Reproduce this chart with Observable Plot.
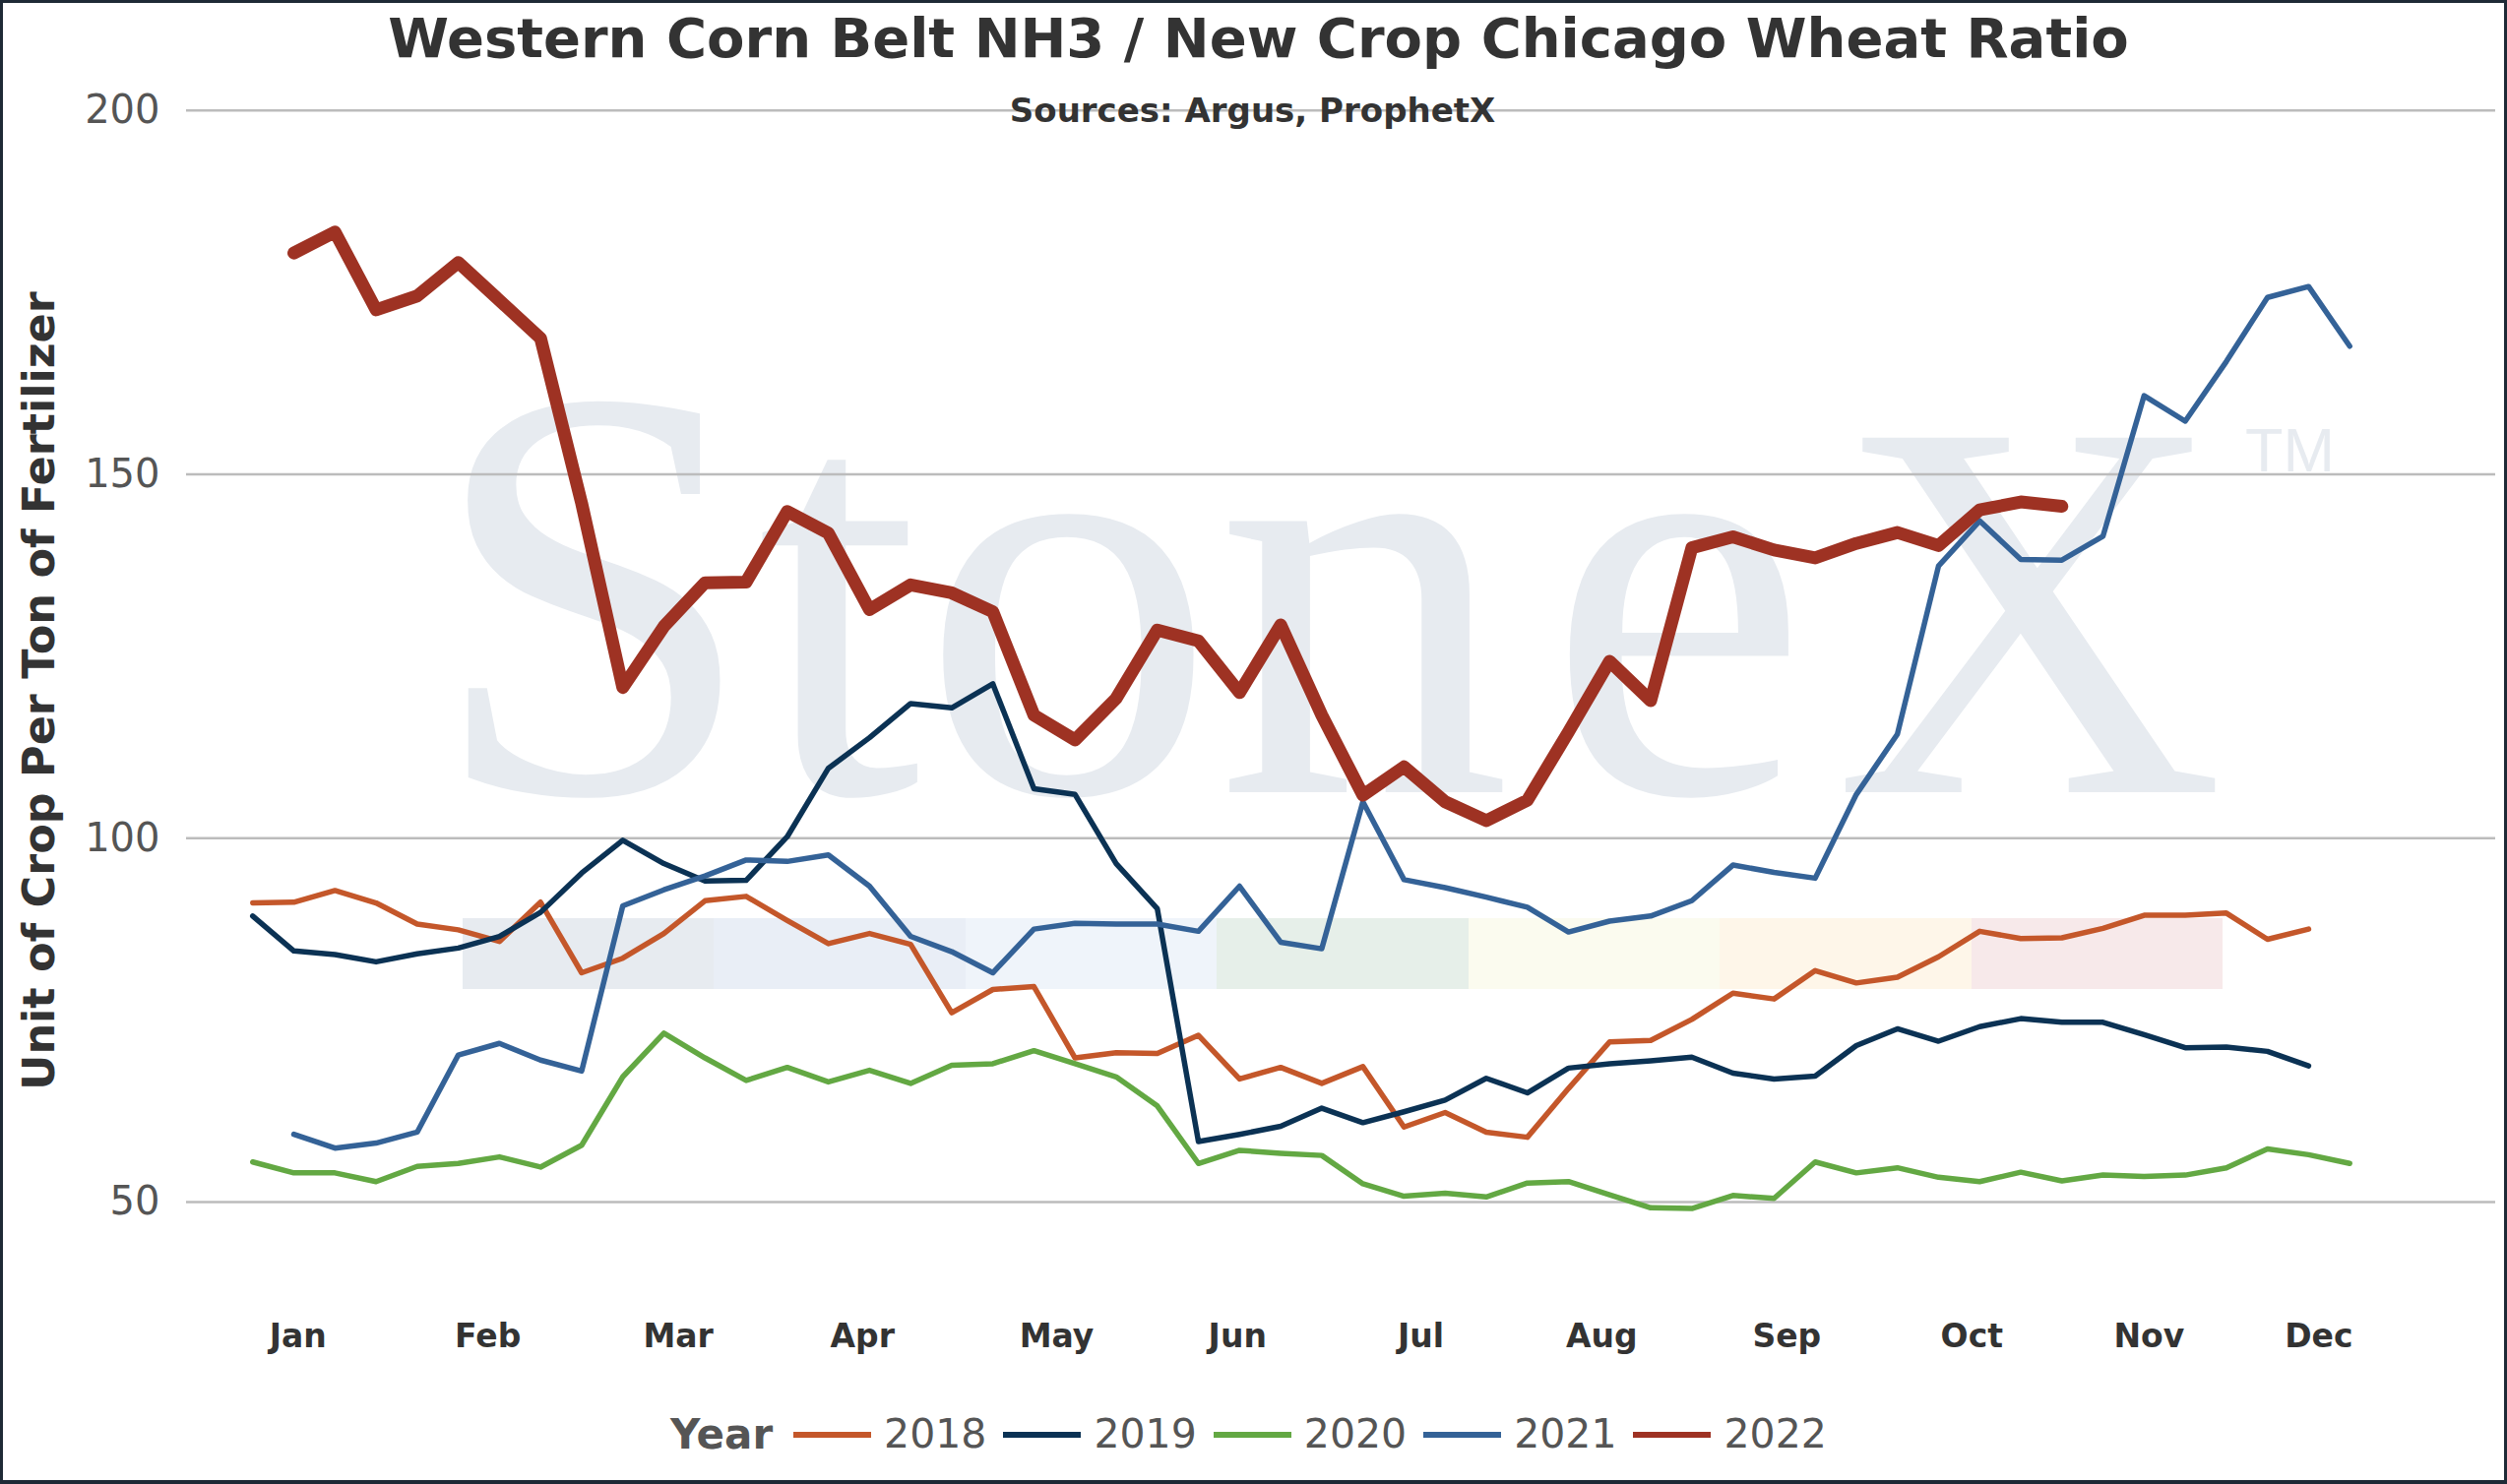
<!DOCTYPE html>
<html>
<head>
<meta charset="utf-8">
<script src="https://cdn.jsdelivr.net/npm/d3@7"></script>
<script src="https://cdn.jsdelivr.net/npm/@observablehq/plot@0.6"></script>
<style>
  html, body { margin: 0; padding: 0; background: #fff; }
  #page { position: relative; width: 2547px; height: 1508px; overflow: hidden; background: #fff; font-family: "DejaVu Sans", Verdana, sans-serif; }
  #border { position: absolute; left: 0; top: 0; width: 2547px; height: 1508px; box-sizing: border-box; border: 3px solid #1e2a36; border-bottom-width: 4px; pointer-events: none; z-index: 10; }
  .wm { position: absolute; color: #e7ebf0; white-space: nowrap; z-index: 0; }
  #wmText { font-family: "Liberation Serif", "DejaVu Serif", serif; font-size: 600px; line-height: 600px; left: 435px; top: 303px; }
  #wmText .e { margin-left: 36px; }
  #wmX { font-family: "Liberation Serif", "DejaVu Serif", serif; font-size: 550px; line-height: 550px; left: 1863px; top: 345px; }
  #wmTM { font-family: "Liberation Sans", Arial, sans-serif; font-size: 63px; line-height: 63px; left: 2281px; top: 426px; }
  #wmBar { position: absolute; left: 470px; top: 933px; width: 1788px; height: 72px; display: flex; z-index: 0; }
  #wmBar div { flex: 1; }
  #chart { position: absolute; left: 0; top: 0; z-index: 2; }
  #title { position: absolute; left: 0; width: 2557px; top: 11px; text-align: center; font-weight: bold; font-size: 56px; line-height: 56px; color: #333; z-index: 3; }
  #subtitle { position: absolute; left: 0; width: 2545px; top: 95px; text-align: center; font-weight: bold; font-size: 34px; line-height: 34px; color: #333; z-index: 3; }
  #ylabel { position: absolute; left: -410px; top: 680px; width: 900px; text-align: center; font-weight: bold; font-size: 44.5px; line-height: 44px; color: #333; transform: rotate(-90deg); transform-origin: 50% 50%; z-index: 3; }
  #legend { position: absolute; left: 681px; top: 1437px; height: 41px; display: flex; align-items: center; z-index: 3; color: #555; font-size: 41px; line-height: 41px; }
  #legend .ttl { font-weight: bold; font-size: 42px; margin-right: 21px; }
  #legend .sw { width: 79px; height: 6px; margin-right: 13px; }
  #legend .lab { margin-right: 17px; }
</style>
</head>
<body>
<div id="page">
  <div class="wm" id="wmText">Ston<span class="e">e</span></div>
  <div class="wm" id="wmX">X</div>
  <div class="wm" id="wmTM">TM</div>
  <div id="wmBar"></div>
  <div id="chart"></div>
  <div id="title">Western Corn Belt NH3 / New Crop Chicago Wheat Ratio</div>
  <div id="subtitle">Sources: Argus, ProphetX</div>
  <div id="ylabel">Unit of Crop Per Ton of Fertilizer</div>
  <div id="legend"></div>
  <div id="border"></div>
</div>
<script>
// ---- Data (weekly values) ----
const years = ["2018", "2019", "2020", "2021", "2022"];
const yearColors = ["#c4572a", "#0b3254", "#63a843", "#346297", "#9e3223"];
const yearStartWeek = [1, 1, 1, 2, 2];

const v2018 = [91.1, 91.2, 92.8, 91.1, 88.2, 87.4, 85.8, 91.2, 81.5, 83.5,
  86.9, 91.4, 92.0, 88.7, 85.5, 86.9, 85.4, 76.0, 79.2, 79.6,
  69.8, 70.5, 70.4, 72.9, 66.9, 68.5, 66.3, 68.6, 60.3, 62.3,
  59.6, 58.9, 65.6, 72.0, 72.2, 75.1, 78.7, 77.9, 81.8, 80.1,
  80.9, 83.7, 87.2, 86.2, 86.3, 87.6, 89.4, 89.4, 89.7, 86.1,
  87.5];
const v2019 = [89.3, 84.5, 84.0, 83.0, 84.1, 84.9, 86.5, 89.8, 95.2, 99.7,
  96.5, 94.1, 94.2, 100.2, 109.6, 113.8, 118.5, 117.9, 121.2, 106.8,
  106.0, 96.5, 90.3, 58.3, 59.3, 60.4, 62.9, 60.9, 62.4, 64.0,
  67.0, 65.0, 68.4, 69.0, 69.4, 69.9, 67.7, 66.9, 67.3, 71.5,
  73.8, 72.1, 74.1, 75.2, 74.7, 74.7, 73.0, 71.2, 71.3, 70.7,
  68.7];
const v2020 = [55.5, 54.0, 54.0, 52.8, 54.9, 55.3, 56.2, 54.8, 57.8, 67.2,
  73.2, 69.8, 66.7, 68.5, 66.5, 68.1, 66.3, 68.8, 69.0, 70.8,
  69.0, 67.2, 63.2, 55.3, 57.1, 56.7, 56.4, 52.5, 50.8, 51.2,
  50.7, 52.6, 52.8, 51.0, 49.2, 49.1, 50.9, 50.5, 55.5, 54.0,
  54.7, 53.4, 52.8, 54.1, 52.9, 53.7, 53.5, 53.7, 54.7, 57.3,
  56.5, 55.3];
const v2021 = [59.3, 57.4, 58.1, 59.6, 70.2, 71.8, 69.5, 68.0, 90.7, 92.9,
  94.8, 97.0, 96.8, 97.7, 93.4, 86.5, 84.4, 81.5, 87.5, 88.3,
  88.2, 88.2, 87.2, 93.4, 85.7, 84.8, 105.0, 94.3, 93.2, 91.9,
  90.5, 87.1, 88.6, 89.3, 91.4, 96.3, 95.3, 94.5, 106.0, 114.3,
  137.4, 143.6, 138.3, 138.2, 141.5, 160.8, 157.3, 165.5, 174.3, 175.8,
  167.6];
const v2022 = [180.4, 183.3, 172.6, 174.5, 179.1, 173.9, 168.7, 146.0, 120.7, 129.1,
  135.1, 135.2, 144.9, 141.9, 131.4, 134.8, 133.7, 131.1, 116.9, 113.5,
  119.2, 128.6, 127.1, 120.0, 129.3, 116.9, 105.9, 109.8, 105.0, 102.4,
  105.2, 114.6, 124.3, 118.9, 139.9, 141.4, 139.6, 138.5, 140.5, 142.0,
  140.2, 145.1, 146.2, 145.6];

const monthLabels = ["Jan", "Feb", "Mar", "Apr", "May", "Jun", "Jul", "Aug", "Sep", "Oct", "Nov", "Dec"];
const monthTickWeeks = [2.1, 6.72, 11.35, 15.83, 20.55, 24.95, 29.41, 33.81, 38.31, 42.81, 47.12, 51.25];
const yTicks = [50, 100, 150, 200];

// ---- Table built from the arrays ----
const series = [v2018, v2019, v2020, v2021, v2022];
const rows = [];
series.forEach((vals, k) => {
  vals.forEach((v, i) => rows.push({year: years[k], week: yearStartWeek[k] + i, value: v}));
});
const thin = rows.filter(d => d.year !== "2022");
const thick = rows.filter(d => d.year === "2022");

const chart = Plot.plot({
  width: 2547,
  height: 1508,
  marginLeft: 189,
  marginRight: 12,
  marginTop: 111.7,
  marginBottom: 213.1,
  style: {background: "transparent", fontFamily: "DejaVu Sans, Verdana, sans-serif", overflow: "visible"},
  x: {domain: [-0.61, 55.55]},
  y: {domain: [40, 200]},
  color: {domain: years, range: yearColors},
  marks: [
    Plot.ruleY(yTicks, {stroke: "#bcbcbc", strokeWidth: 2.5}),
    Plot.axisY({ticks: yTicks, tickSize: 0, tickPadding: 27, fontSize: 40, fill: "#555", label: null}),
    Plot.axisX({ticks: monthTickWeeks, tickSize: 0, tickPadding: 50, fontSize: 33, fontWeight: "bold", fill: "#333", label: null,
      tickFormat: d => monthLabels[monthTickWeeks.indexOf(d)]}),
    Plot.line(thin, {x: "week", y: "value", z: "year", stroke: "year", strokeWidth: 5.5, strokeLinejoin: "round", strokeLinecap: "round"}),
    Plot.line(thick, {x: "week", y: "value", z: "year", stroke: "year", strokeWidth: 13, strokeLinejoin: "round", strokeLinecap: "round"})
  ]
});
document.getElementById("chart").appendChild(chart);

// ---- Legend (HTML) ----
const legend = d3.select("#legend");
legend.append("span").attr("class", "ttl").text("Year");
years.forEach((y, i) => {
  legend.append("span").attr("class", "sw").style("background", yearColors[i]);
  legend.append("span").attr("class", "lab").text(y);
});

// ---- Watermark colour bar ----
const wmColors = ["#e7ebf0", "#e9eef6", "#eff4fa", "#e6efe9", "#fbfbef", "#fef6e9", "#f7e9ea"];
d3.select("#wmBar").selectAll("div").data(wmColors).join("div").style("background", d => d);
</script>
</body>
</html>
